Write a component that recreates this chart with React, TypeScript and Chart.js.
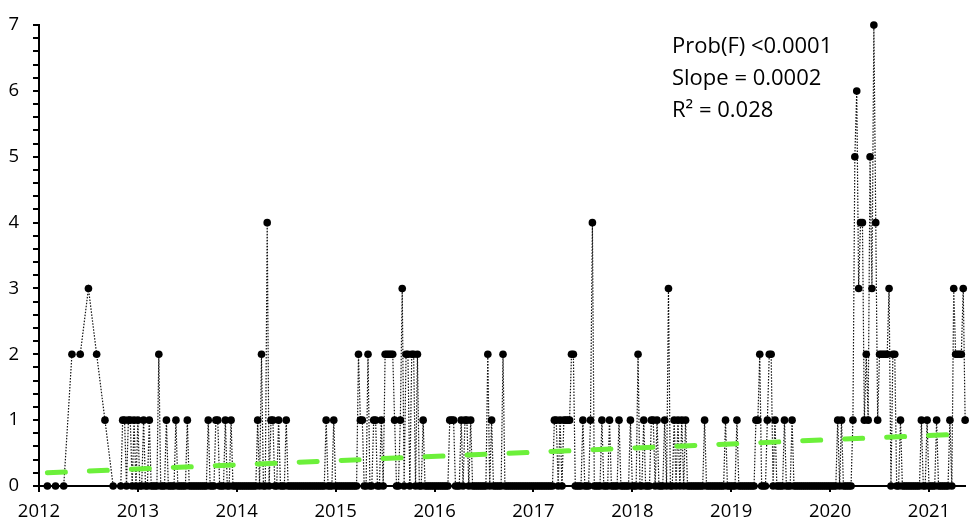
import React, { useEffect, useRef } from 'react';
import { Chart, registerables } from 'chart.js';

Chart.register(...registerables);

// ---- data ----
const monthDates2012 = [2012.085, 2012.167, 2012.25, 2012.333, 2012.417, 2012.5, 2012.583, 2012.667, 2012.75];
const monthValues2012 = [0, 0, 0, 2, 2, 3, 2, 1, 0];

// weekly values; x = year + week/52
const firstWeek2012Tail = 43;
const weekValues2012Tail = [0, 1, 1, 0, 1, 1, 0, 1, 0];
const weekValues2013 = [
  1, 0, 0, 1, 0, 0, 1, 0, 0, 0,
  0, 2, 0, 0, 0, 1, 0, 0, 0, 0,
  1, 0, 0, 0, 0, 0, 1, 0, 0, 0,
  0, 0, 0, 0, 0, 0, 0, 1, 0, 0,
  0, 1, 1, 0, 0, 0, 1, 0, 0, 1,
  0, 0,
];
const weekValues2014 = [
  0, 0, 0, 0, 0, 0, 0, 0, 0, 0,
  0, 1, 0, 2, 0, 0, 4, 0, 1, 1,
  0, 0, 1, 0, 0, 0, 1, 0, 0, 0,
  0, 0, 0, 0, 0, 0, 0, 0, 0, 0,
  0, 0, 0, 0, 0, 0, 0, 1, 0, 0,
  0, 1,
];
const weekValues2015 = [
  0, 0, 0, 0, 0, 0, 0, 0, 0, 0,
  0, 0, 2, 1, 1, 0, 0, 2, 0, 0,
  1, 1, 0, 0, 1, 0, 2, 2, 2, 2,
  2, 1, 0, 0, 1, 3, 0, 2, 2, 0,
  2, 2, 0, 2, 0, 0, 1, 0, 0, 0,
  0, 0,
];
const weekValues2016 = [
  0, 0, 0, 0, 0, 0, 0, 0, 1, 1,
  1, 0, 0, 0, 1, 0, 1, 1, 0, 1,
  0, 0, 0, 0, 0, 0, 0, 0, 2, 0,
  1, 0, 0, 0, 0, 0, 2, 0, 0, 0,
  0, 0, 0, 0, 0, 0, 0, 0, 0, 0,
  0, 0,
];
const weekValues2017 = [
  0, 0, 0, 0, 0, 0, 0, 0, 0, 0,
  0, 1, 1, 0, 1, 0, 1, 1, 1, 1,
  2, 2, 0, 0, 0, 0, 1, 0, 0, 0,
  1, 4, 0, 0, 0, 0, 1, 0, 0, 0,
  1, 0, 0, 0, 0, 1, 0, 0, 0, 0,
  0, 1,
];
const weekValues2018 = [
  0, 0, 0, 2, 0, 0, 1, 0, 0, 0,
  1, 1, 0, 1, 0, 0, 0, 1, 0, 3,
  0, 0, 1, 0, 1, 0, 1, 0, 1, 0,
  0, 0, 0, 0, 0, 0, 0, 0, 1, 0,
  0, 0, 0, 0, 0, 0, 0, 0, 0, 1,
  0, 0,
];
const weekValues2019 = [
  0, 0, 0, 1, 0, 0, 0, 0, 0, 0,
  0, 0, 0, 1, 1, 2, 0, 0, 0, 1,
  2, 2, 0, 1, 0, 0, 0, 0, 1, 0,
  0, 0, 1, 0, 0, 0, 0, 0, 0, 0,
  0, 0, 0, 0, 0, 0, 0, 0, 0, 0,
  0, 0,
];
const weekValues2020 = [
  0, 0, 0, 0, 1, 0, 1, 0, 0, 0,
  0, 0, 1, 5, 6, 3, 4, 4, 1, 2,
  1, 5, 3, 7, 4, 1, 2, 2, 2, 2,
  2, 3, 0, 2, 2, 0, 0, 1, 0, 0,
  0, 0, 0, 0, 0, 0, 0, 0, 1, 0,
  0, 1,
];
const weekValues2021 = [
  0, 0, 0, 0, 1, 0, 0, 0, 0, 0,
  0, 1, 0, 3, 2, 2, 2, 2, 3, 1,
];

const yearTickLabels = ['2012', '2013', '2014', '2015', '2016', '2017', '2018', '2019', '2020', '2021'];
const yTickLabels = ['0', '1', '2', '3', '4', '5', '6', '7'];

const trendX = [2012.085, 2021.366];
const trendY = [0.2, 0.79];

const statsLines = ['Prob(F) <0.0001', 'Slope = 0.0002', 'R\u00B2 = 0.028'];

const X_MIN = 2012;
const X_MAX = 2021.366;

function buildPoints() {
  const pts: { x: number; y: number }[] = monthDates2012.map((x, i) => ({ x, y: monthValues2012[i] }));
  const weekly: [number, number, number[]][] = [
    [2012, firstWeek2012Tail, weekValues2012Tail],
    [2013, 0, weekValues2013],
    [2014, 0, weekValues2014],
    [2015, 0, weekValues2015],
    [2016, 0, weekValues2016],
    [2017, 0, weekValues2017],
    [2018, 0, weekValues2018],
    [2019, 0, weekValues2019],
    [2020, 0, weekValues2020],
    [2021, 0, weekValues2021],
  ];
  weekly.forEach(([yr, start, vals]) => {
    vals.forEach((v, i) => pts.push({ x: yr + (start + i) / 52, y: v }));
  });
  return pts;
}

const statsPlugin = {
  id: 'statsText',
  afterDraw(chart: any) {
    const ctx = chart.ctx;
    ctx.save();
    ctx.font = '22px "Open Sans"';
    ctx.fillStyle = '#000';
    ctx.textAlign = 'left';
    ctx.textBaseline = 'alphabetic';
    statsLines.forEach((t, i) => ctx.fillText(t, 672, 53 + i * 32));
    ctx.restore();
  },
};

function isWhole(v: number) {
  return Math.abs(v - Math.round(v)) < 1e-6;
}

export default function App() {
  const canvasRef = useRef<HTMLCanvasElement | null>(null);

  useEffect(() => {
    document.body.style.margin = '0';
    document.body.style.overflow = 'hidden';
    const canvas = canvasRef.current;
    if (!canvas) return;
    const points = buildPoints();
    const trend = trendX.map((x, i) => ({ x, y: trendY[i] }));
    const font = { family: '"Open Sans", sans-serif', size: 18.5 };

    const chart = new Chart(canvas, {
      type: 'scatter',
      data: {
        datasets: [
          {
            label: 'trend',
            data: trend,
            showLine: true,
            borderColor: '#6CF03A',
            borderWidth: 5,
            borderDash: [18, 24],
            borderCapStyle: 'round',
            pointRadius: 0,
            order: 0,
            clip: false,
          } as any,
          {
            label: 'count',
            data: points,
            showLine: true,
            borderColor: '#111',
            borderWidth: 1.2,
            borderDash: [1.5, 1.5],
            pointRadius: 3.8,
            pointHoverRadius: 3.8,
            pointBackgroundColor: '#000',
            pointBorderColor: '#000',
            pointBorderWidth: 0,
            tension: 0,
            order: 1,
            clip: false,
          } as any,
        ],
      },
      options: {
        responsive: false,
        animation: false,
        events: [],
        layout: { padding: { top: 19, left: 0, right: 0, bottom: 0 } },
        plugins: {
          legend: { display: false },
          tooltip: { enabled: false },
        },
        scales: {
          x: {
            type: 'linear',
            min: X_MIN,
            max: X_MAX,
            afterFit: (s: any) => {
              s.height = 37;
            },
            border: { display: true, color: '#000', width: 2 },
            grid: { drawOnChartArea: false, drawTicks: true, tickLength: 6, color: '#000', lineWidth: 2 },
            ticks: {
              stepSize: 1,
              autoSkip: false,
              includeBounds: false,
              maxRotation: 0,
              padding: 9,
              color: '#000',
              font,
              callback: (v: any) => (isWhole(v) ? yearTickLabels[Math.round(v) - 2012] ?? '' : ''),
            },
          },
          y: {
            type: 'linear',
            min: 0,
            max: 7,
            afterFit: (s: any) => {
              s.width = 39;
            },
            border: { display: true, color: '#000', width: 2 },
            grid: { drawOnChartArea: false, drawTicks: true, tickLength: 6, color: '#000', lineWidth: 2 },
            ticks: {
              stepSize: 0.2,
              autoSkip: false,
              padding: 14,
              color: '#000',
              font,
              callback: (v: any) => (isWhole(v) ? yTickLabels[Math.round(v)] ?? '' : ''),
            },
          },
        },
      } as any,
      plugins: [statsPlugin],
    });

    return () => {
      chart.destroy();
    };
  }, []);

  return (
    <div style={{ width: 969, height: 523, position: 'relative', overflow: 'hidden' }}>
      <canvas ref={canvasRef} width={969} height={523} style={{ display: 'block', width: 969, height: 523 }} />
    </div>
  );
}
